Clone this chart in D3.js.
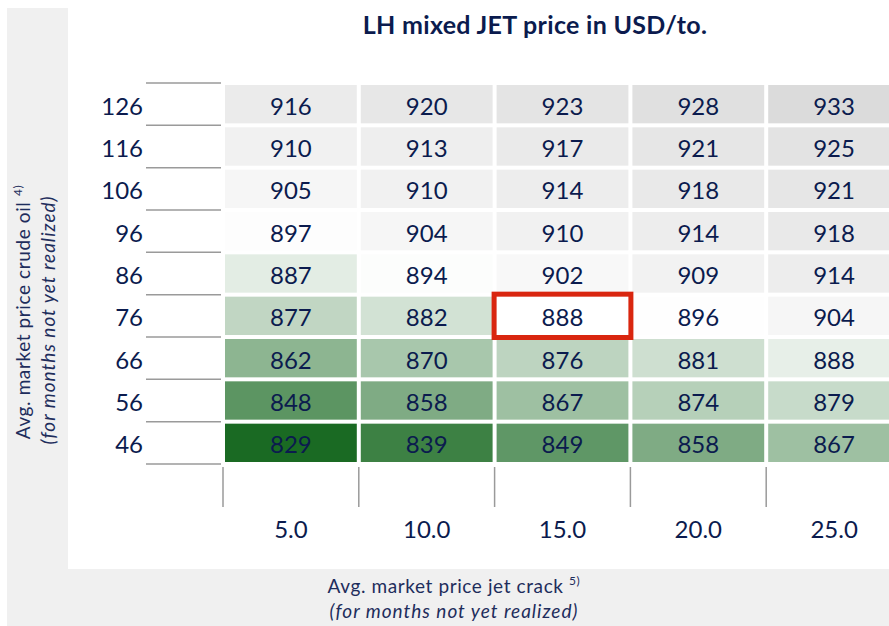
<!DOCTYPE html>
<html><head><meta charset="utf-8">
<script src="https://cdn.jsdelivr.net/npm/d3@7"></script>
<style>
html,body{margin:0;padding:0;background:#fff;}
svg{display:block;font-family:Lato,"Open Sans",sans-serif;}
</style></head>
<body>
<svg id="c" width="889" height="626"></svg>
<script>
// ---- data ----
const oilPrices = [126, 116, 106, 96, 86, 76, 66, 56, 46];
const crackLabels = ["5.0", "10.0", "15.0", "20.0", "25.0"];
const row126 = [916, 920, 923, 928, 933];
const row116 = [910, 913, 917, 921, 925];
const row106 = [905, 910, 914, 918, 921];
const row96  = [897, 904, 910, 914, 918];
const row86  = [887, 894, 902, 909, 914];
const row76  = [877, 882, 888, 896, 904];
const row66  = [862, 870, 876, 881, 888];
const row56  = [848, 858, 867, 874, 879];
const row46  = [829, 839, 849, 858, 867];
const valueRows = [row126, row116, row106, row96, row86, row76, row66, row56, row46];
const highlight = {oil: 76, crack: "15.0"};
const titleText = "LH mixed JET price in USD/to.";

const cells = [];
valueRows.forEach((r, i) => r.forEach((v, j) => cells.push({oil: oilPrices[i], crack: crackLabels[j], v})));

const navy = "#0b1b4e";
const svg = d3.select("#c");

// background panels
svg.append("rect").attr("x", 7).attr("y", 8).attr("width", 61).attr("height", 600).attr("fill", "#f0f0f0");
svg.append("rect").attr("x", 7).attr("y", 569).attr("width", 882).attr("height", 57).attr("fill", "#f0f0f0");

const x = d3.scaleBand().domain(crackLabels).range([223, 902]);
const y = d3.scaleBand().domain(oilPrices).range([83, 464]);
const color = d3.scaleLinear().domain([829, 895, 933]).range(["#1a6a23", "#ffffff", "#dbdbdb"]).clamp(true);

const isHi = d => d.oil === highlight.oil && d.crack === highlight.crack;

// cells
svg.append("g").selectAll("rect").data(cells).join("rect")
  .attr("x", d => x(d.crack) + 2)
  .attr("y", d => y(d.oil) + 2)
  .attr("width", x.bandwidth() - 4)
  .attr("height", y.bandwidth() - 4)
  .attr("fill", d => isHi(d) ? "#ffffff" : color(d.v));

svg.append("g").selectAll("text").data(cells).join("text")
  .attr("x", d => x(d.crack) + x.bandwidth() / 2)
  .attr("y", d => y(d.oil) + y.bandwidth() / 2 + 1)
  .attr("text-anchor", "middle").attr("dominant-baseline", "central")
  .attr("font-size", 24).attr("fill", navy)
  .text(d => d.v);

// highlight box
const hi = cells.find(isHi);
svg.append("rect")
  .attr("x", x(hi.crack) - 0.5).attr("y", y(hi.oil) - 0.5)
  .attr("width", x.bandwidth() + 1).attr("height", y.bandwidth() + 1)
  .attr("fill", "none").attr("stroke", "#d9260f").attr("stroke-width", 5);

// y axis: tick lines at row boundaries
const yBounds = oilPrices.map(o => y(o)).concat([y.range()[1]]);
svg.append("g").selectAll("line").data(yBounds).join("line")
  .attr("x1", 146).attr("x2", 221).attr("y1", d => d).attr("y2", d => d)
  .attr("stroke", "#9a9a9a").attr("stroke-width", 1.5);
svg.append("g").selectAll("text").data(oilPrices).join("text")
  .attr("x", 143).attr("y", d => y(d) + y.bandwidth() / 2 + 1)
  .attr("text-anchor", "end").attr("dominant-baseline", "central")
  .attr("font-size", 24).attr("fill", navy).text(d => d);

// x axis: tick lines at column starts
svg.append("g").selectAll("line").data(crackLabels).join("line")
  .attr("x1", d => x(d)).attr("x2", d => x(d)).attr("y1", 467).attr("y2", 507)
  .attr("stroke", "#9a9a9a").attr("stroke-width", 1.5);
svg.append("g").selectAll("text").data(crackLabels).join("text")
  .attr("x", d => x(d) + x.bandwidth() / 2).attr("y", 528)
  .attr("text-anchor", "middle").attr("dominant-baseline", "central")
  .attr("font-size", 24).attr("fill", navy).text(d => d);

// title
svg.append("text").attr("x", 535).attr("y", 34).attr("text-anchor", "middle")
  .attr("font-size", 25).attr("font-weight", "bold").attr("letter-spacing", 0.3).attr("fill", navy).text(titleText);

// x axis title
const xt = svg.append("text").attr("x", 454).attr("y", 593).attr("text-anchor", "middle")
  .attr("font-size", 19).attr("letter-spacing", 0.6).attr("fill", "#1e2d5c");
xt.append("tspan").text("Avg. market price jet crack ");
xt.append("tspan").attr("font-size", 12).attr("dy", -8).text("5)");
svg.append("text").attr("x", 454).attr("y", 618).attr("text-anchor", "middle")
  .attr("font-size", 19).attr("letter-spacing", 1).attr("font-style", "italic").attr("fill", "#1e2d5c")
  .text("(for months not yet realized)");

// y axis title
const yt = svg.append("text").attr("transform", "translate(30,312) rotate(-90)")
  .attr("text-anchor", "middle").attr("font-size", 19).attr("letter-spacing", 0.6).attr("fill", "#1e2d5c");
yt.append("tspan").text("Avg. market price crude oil ");
yt.append("tspan").attr("font-size", 12).attr("dy", -8).text("4)");
svg.append("text").attr("transform", "translate(55,320) rotate(-90)")
  .attr("text-anchor", "middle").attr("font-size", 19).attr("letter-spacing", 1).attr("font-style", "italic").attr("fill", "#1e2d5c")
  .text("(for months not yet realized)");
</script>
</body></html>
